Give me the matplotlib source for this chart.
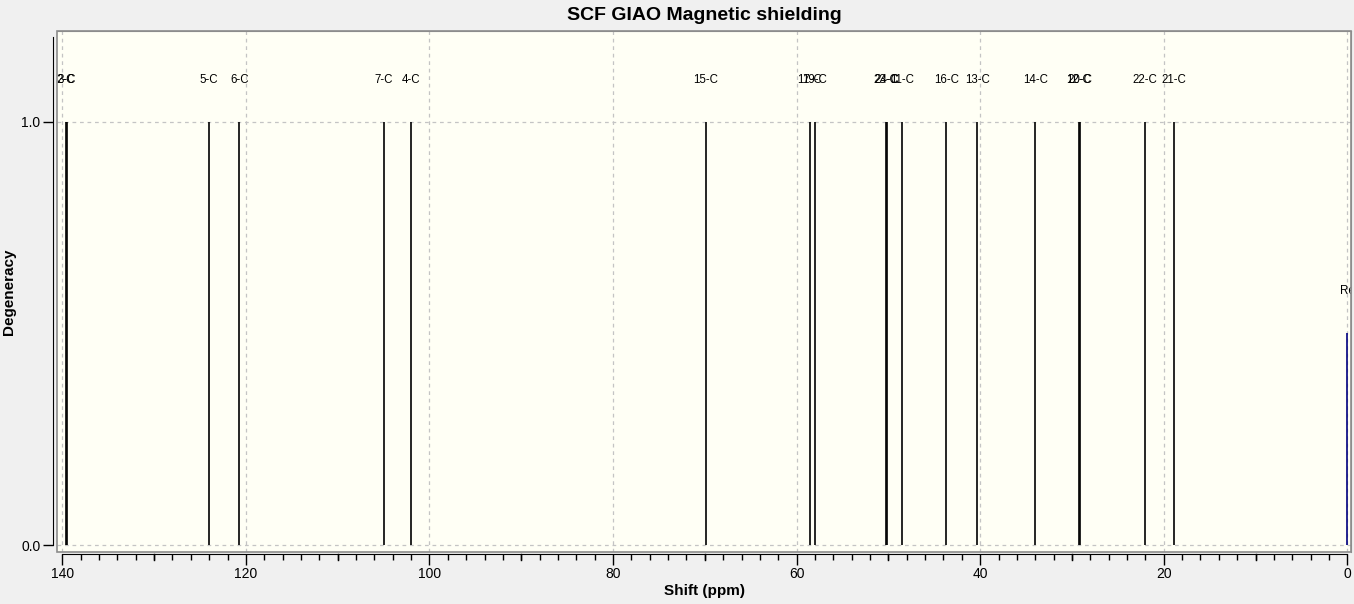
import numpy as np
import matplotlib
matplotlib.use("Agg")
import matplotlib.pyplot as plt
from matplotlib.patches import Rectangle
from matplotlib.ticker import MultipleLocator

plt.rcParams['font.family'] = ['Liberation Sans', 'DejaVu Sans']

# chemical shifts (ppm), with their atom labels
labels = ["2-C", "3-C", "5-C", "6-C", "7-C", "4-C", "15-C", "17-C", "19-C",
          "23-C", "24-C", "11-C", "16-C", "13-C", "14-C", "12-C", "20-C",
          "22-C", "21-C"]
shifts = [139.6, 139.5, 124.05, 120.7, 104.98, 101.97, 69.87, 58.57, 57.99,
          50.26, 50.11, 48.48, 43.7, 40.31, 33.99, 29.27, 29.17,
          22.07, 18.91]
degeneracy = [1.0] * len(shifts)

# reference peak
ref_label = "Re"
ref_shift = 0.0
ref_height = 0.5

fig = plt.figure(figsize=(13.54, 6.04), dpi=100, facecolor="#F0F0F0")
ax = fig.add_axes([0.0423, 0.0866, 0.9555, 0.8616], facecolor="#FFFFF5")

ax.set_xlim(140.545, -0.40)
ax.set_ylim(-0.0158, 1.214)

# grid
for gx in range(0, 141, 20):
    ax.axvline(gx, color="#C4C4C4", lw=0.9, ls=(0, (3, 3)), zorder=0)
for gy in [0.0, 1.0]:
    ax.axhline(gy, color="#C4C4C4", lw=0.9, ls=(0, (3, 3)), zorder=0)

# peaks
ax.vlines(shifts, 0, degeneracy, color="black", lw=1.2, zorder=2)
for lab, s, d in zip(labels, shifts, degeneracy):
    ax.text(s, d + 0.1, lab, ha="center", va="center", fontsize=8.3,
            color="black", clip_on=True)
ax.vlines([ref_shift], 0, [ref_height], color="#000080", lw=1.2, zorder=2)
ax.text(ref_shift, ref_height + 0.1, ref_label, ha="center", va="center",
        fontsize=8.3, color="black", clip_on=True)

# plot box
for sp in ["top", "right"]:
    ax.spines[sp].set_color("#8C8C8C")
ax.add_patch(Rectangle((0, 0), 1, 1, transform=ax.transAxes, fill=False,
                       edgecolor="#8C8C8C", lw=1.2, clip_on=False, zorder=5))

# offset axes
ax.spines["left"].set_position(("outward", 3))
ax.spines["left"].set_bounds(0, 1.2)
ax.spines["bottom"].set_position(("outward", 2))
ax.spines["bottom"].set_bounds(0, 140)
ax.spines["left"].set_color("black")
ax.spines["bottom"].set_color("black")

ax.set_yticks([0.0, 1.0])
ax.set_yticklabels(["0.0", "1.0"])
ax.xaxis.set_major_locator(MultipleLocator(20))
ax.xaxis.set_minor_locator(MultipleLocator(2))
ax.tick_params(axis="y", length=7, width=1, labelsize=10, pad=2)
ax.tick_params(axis="x", which="major", length=8, width=1, labelsize=10, pad=1)
ax.tick_params(axis="x", which="minor", length=4, width=1)

# slightly longer ticks every 10 ppm (axes-fraction offsets below the spine)
for mx in range(10, 140, 20):
    ax.plot([mx, mx], [-0.0053, -0.0165], color="black", lw=1,
            transform=ax.get_xaxis_transform(), clip_on=False)

ax.set_title("SCF GIAO Magnetic shielding", fontsize=14, fontweight="bold", pad=8)
ax.set_xlabel("Shift (ppm)", fontsize=11, fontweight="bold", labelpad=2)
ax.set_ylabel("Degeneracy", fontsize=11, fontweight="bold", labelpad=3.5)

fig.savefig("out.png", dpi=100, facecolor=fig.get_facecolor())
